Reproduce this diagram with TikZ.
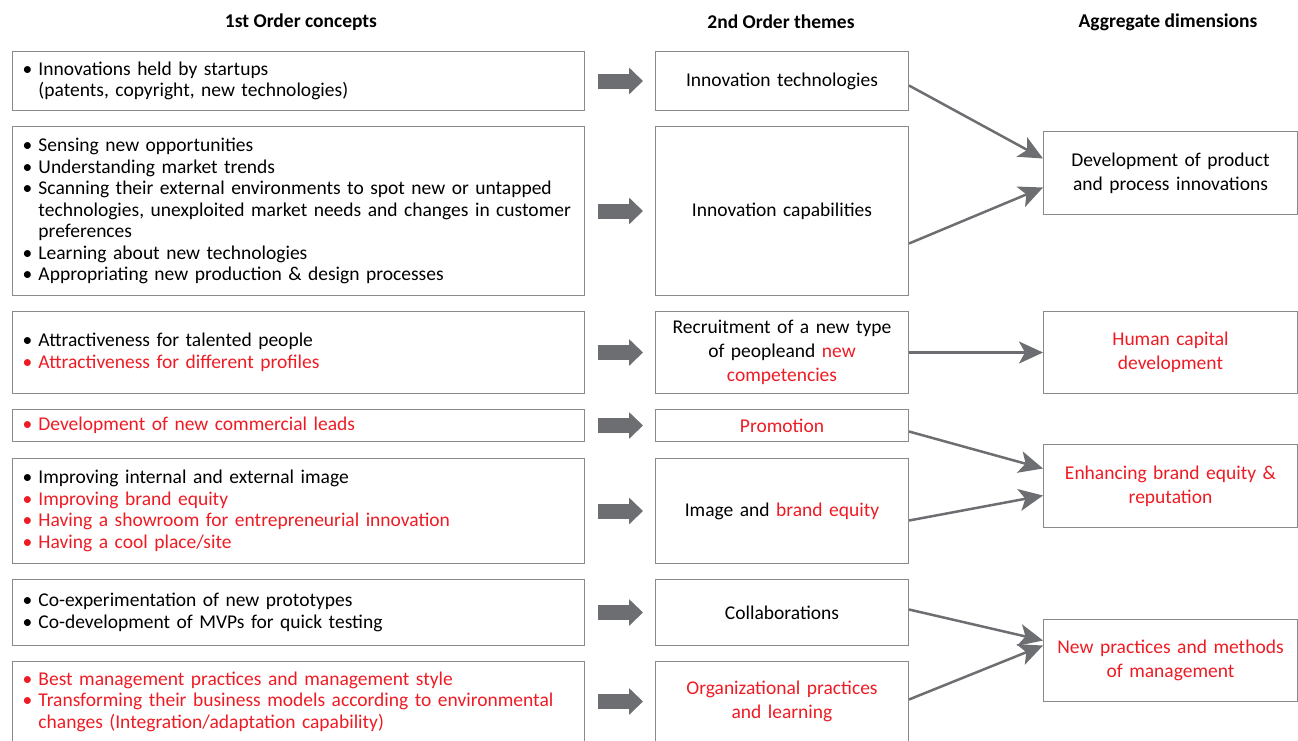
\documentclass[tikz,border=0pt]{standalone}
\usepackage{fontspec}
\setmainfont{Carlito}
\usetikzlibrary{arrows.meta}
\definecolor{boxgray}{HTML}{8A8A8A}
\definecolor{arrowgray}{HTML}{6D6E71}
\definecolor{hlred}{HTML}{ED1C24}
% bullet line with hanging indent
\newcommand{\bul}[2][black]{\lineskiplimit=-20pt\relax\hangindent=16pt\hangafter=1\noindent{\color{#1}\makebox[16pt][l]{\textbullet}#2}\par}
\begin{document}
\begin{tikzpicture}[x=1pt,y=1pt,
    every node/.style={font=\fontsize{19.5}{24}\selectfont},
    concept/.style={draw=boxgray, line width=1pt, anchor=north west, text width=552pt, inner xsep=10pt, inner ysep=0pt, align=left,
        font=\fontsize{19.5}{21.5}\selectfont},
    theme/.style={draw=boxgray, line width=1pt, anchor=north west, text width=233pt, inner xsep=10pt, inner ysep=0pt, align=center},
    dimension/.style={draw=boxgray, line width=1pt, anchor=north west, text width=234pt, inner xsep=10pt, inner ysep=0pt, align=center},
    head/.style={font=\fontsize{19.5}{21.5}\selectfont\bfseries},
    fat/.style={arrowgray, line width=15pt, -{Triangle[length=14pt,width=26pt]}, shorten <=13pt, shorten >=12pt},
    link/.style={arrowgray, line width=2.5pt, -{Stealth[length=24pt,width=22pt,inset=6pt]}}]
    \useasboundingbox (0,0) rectangle (1298,-740);

    % headings
    \node[head] (h1) at (301,-22) {1st Order concepts};
    \node[head] (h2) at (781,-22) {2nd Order themes};
    \node[head] (h3) at (1168,-22) {Aggregate dimensions};

    % 1st order concepts
    \node[concept, minimum height=59pt] (c1) at (12,-51) {%
        \bul{Innovations held by startups\break(patents, copyright, new technologies)}};
    \node[concept, minimum height=169pt] (c2) at (12,-126) {%
        \bul{Sensing new opportunities}
        \bul{Understanding market trends}
        \bul{Scanning their external environments to spot new or untapped\break technologies, unexploited market needs and changes in customer\break preferences}
        \bul{Learning about new technologies}
        \bul{Appropriating new production \& design processes}};
    \node[concept, minimum height=82pt] (c3) at (12,-311) {%
        \bul{Attractiveness for talented people}
        \bul[hlred]{Attractiveness for different profiles}};
    \node[concept, minimum height=32pt] (c4) at (12,-409) {%
        \bul[hlred]{Development of new commercial leads}};
    \node[concept, minimum height=105pt] (c5) at (12,-458) {%
        \bul{Improving internal and external image}
        \bul[hlred]{Improving brand equity}
        \bul[hlred]{Having a showroom for entrepreneurial innovation}
        \bul[hlred]{Having a cool place/site}};
    \node[concept, minimum height=66pt] (c6) at (12,-579) {%
        \bul{Co-experimentation of new prototypes}
        \bul{Co-development of MVPs for quick testing}};
    \node[concept, minimum height=80pt] (c7) at (12,-661) {%
        \bul[hlred]{Best management practices and management style}
        \bul[hlred]{Transforming their business models according to environmental\break changes (Integration/adaptation capability)}};

    % 2nd order themes
    \node[theme, minimum height=59pt] (t1) at (655,-51) {Innovation technologies};
    \node[theme, minimum height=169pt] (t2) at (655,-126) {Innovation capabilities};
    \node[theme, minimum height=82pt] (t3) at (655,-311) {Recruitment of a new type\\of peopleand {\color{hlred}new}\\{\color{hlred}competencies}};
    \node[theme, minimum height=32pt] (t4) at (655,-409) {\color{hlred}Promotion};
    \node[theme, minimum height=105pt] (t5) at (655,-458) {Image and {\color{hlred}brand equity}};
    \node[theme, minimum height=66pt] (t6) at (655,-579) {Collaborations};
    \node[theme, minimum height=80pt] (t7) at (655,-661) {\color{hlred}Organizational practices\\and learning};

    % aggregate dimensions
    \node[dimension, minimum height=83pt] (d1) at (1043,-131) {Development of product\\and process innovations};
    \node[dimension, minimum height=82pt] (d2) at (1043,-311) {\color{hlred}Human capital\\development};
    \node[dimension, minimum height=83pt] (d3) at (1043,-444) {\color{hlred}Enhancing brand equity \&\\reputation};
    \node[dimension, minimum height=82pt] (d4) at (1043,-619) {\color{hlred}New practices and methods\\of management};

    % block arrows
    \foreach \i in {1,...,7}
        \draw[fat] (c\i.east) -- (t\i.west);

    % links to dimensions
    \draw[link] ([yshift=-4.5pt]t1.east) -- ([yshift=14.5pt]d1.west);
    \draw[link] ([yshift=-32.5pt]t2.east) -- ([yshift=-14.5pt]d1.west);
    \draw[link] (t3.east) -- (d2.west);
    \draw[link] ([yshift=-6pt]t4.east) -- ([yshift=17.5pt]d3.west);
    \draw[link] ([yshift=-9.5pt]t5.east) -- ([yshift=-9.5pt]d3.west);
    \draw[link] ([yshift=3pt]t6.east) -- ([yshift=20pt]d4.west);
    \draw[link] ([yshift=2pt]t7.east) -- ([yshift=15pt]d4.west);
\end{tikzpicture}
\end{document}
